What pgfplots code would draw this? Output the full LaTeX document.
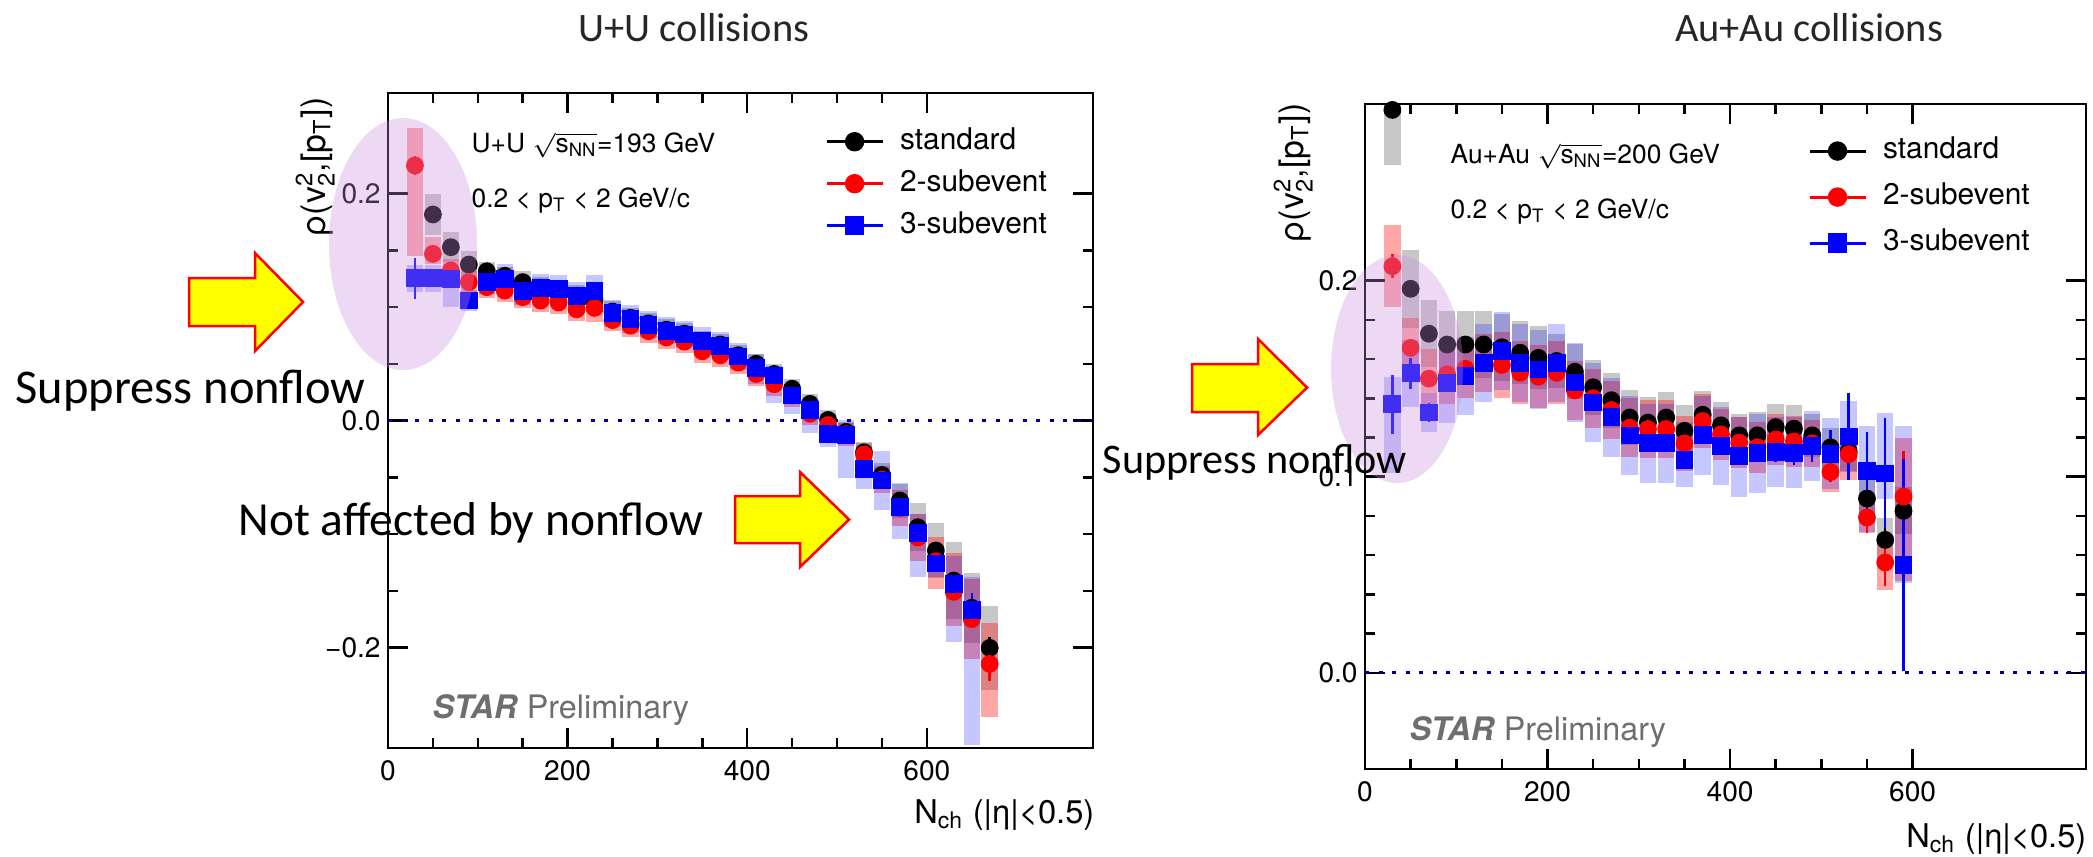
\documentclass[border=0pt]{standalone}
\usepackage{fontspec}
\usepackage{amsmath}
\usepackage{pgfplots}
\usepackage{pgfplotstable}
\pgfplotsset{compat=1.18}
\setmainfont{TeX Gyre Heros}
\newfontfamily\calibri{Carlito}

\definecolor{zeroline}{RGB}{0,0,140}
\definecolor{hazecol}{RGB}{200,140,220}
\definecolor{prelim}{RGB}{110,110,110}
\definecolor{arrowfill}{RGB}{255,255,0}
\definecolor{mred}{RGB}{255,0,0}
\definecolor{mblue}{RGB}{0,0,255}

% columns: N_ch, value, stat. error, syst. down, syst. up
\pgfplotstableread{
x y e sm sp
50 0.1815 0.004 0.018 0.018
70 0.1527 0.003 0.013 0.013
90 0.1374 0.003 0.012 0.012
110 0.1315 0.003 0.008 0.008
130 0.1275 0.003 0.008 0.008
150 0.1219 0.003 0.010 0.010
170 0.1170 0.003 0.009 0.009
190 0.1140 0.003 0.009 0.009
210 0.1100 0.003 0.009 0.009
230 0.1057 0.003 0.010 0.010
250 0.0960 0.003 0.009 0.009
270 0.0905 0.003 0.009 0.009
290 0.0855 0.003 0.009 0.009
310 0.0800 0.003 0.009 0.009
330 0.0765 0.003 0.009 0.009
350 0.0700 0.003 0.009 0.009
370 0.0670 0.003 0.009 0.009
390 0.0575 0.003 0.009 0.009
410 0.0500 0.003 0.009 0.009
430 0.0410 0.003 0.009 0.009
450 0.0280 0.003 0.009 0.009
470 0.0147 0.003 0.009 0.009
490 0.0005 0.003 0.009 0.009
510 -0.0100 0.003 0.009 0.009
530 -0.0280 0.003 0.009 0.009
550 -0.0480 0.003 0.011 0.011
570 -0.0705 0.003 0.015 0.015
590 -0.0940 0.003 0.021 0.021
610 -0.1145 0.004 0.024 0.024
630 -0.1410 0.004 0.034 0.034
650 -0.1650 0.005 0.031 0.031
670 -0.2003 0.010 0.037 0.037
}\UUstd

\pgfplotstableread{
x y e sm sp
30 0.2247 0.008 0.080 0.033
50 0.1468 0.005 0.009 0.015
70 0.1322 0.004 0.010 0.010
90 0.1219 0.004 0.010 0.010
110 0.1175 0.004 0.010 0.010
130 0.1145 0.003 0.010 0.010
150 0.1087 0.003 0.010 0.010
170 0.1057 0.003 0.010 0.010
190 0.1040 0.003 0.010 0.010
210 0.0980 0.003 0.010 0.010
230 0.0992 0.003 0.012 0.012
250 0.0885 0.003 0.010 0.010
270 0.0835 0.003 0.010 0.010
290 0.0787 0.003 0.010 0.010
310 0.0732 0.003 0.010 0.010
330 0.0695 0.003 0.010 0.010
350 0.0610 0.003 0.010 0.010
370 0.0575 0.003 0.010 0.010
390 0.0510 0.003 0.010 0.010
410 0.0410 0.003 0.011 0.010
430 0.0320 0.003 0.010 0.010
450 0.0220 0.003 0.010 0.010
470 0.0060 0.003 0.010 0.010
490 -0.0040 0.003 0.010 0.010
510 -0.0120 0.003 0.010 0.010
530 -0.0300 0.003 0.010 0.010
550 -0.0520 0.003 0.012 0.012
570 -0.0770 0.004 0.016 0.016
590 -0.1030 0.004 0.021 0.021
610 -0.1240 0.004 0.024 0.021
630 -0.1510 0.005 0.030 0.034
650 -0.1750 0.006 0.035 0.035
670 -0.2144 0.015 0.047 0.036
}\UUsubtwo

\pgfplotstableread{
x y e sm sp
30 0.1254 0.018 0.012 0.012
50 0.1254 0.008 0.012 0.012
70 0.1248 0.005 0.025 0.009
90 0.1057 0.004 0.009 0.009
110 0.1219 0.004 0.010 0.010
130 0.1248 0.004 0.013 0.013
150 0.1140 0.003 0.012 0.012
170 0.1170 0.003 0.012 0.012
190 0.1160 0.003 0.012 0.012
210 0.1100 0.003 0.012 0.012
230 0.1140 0.003 0.014 0.014
250 0.0944 0.003 0.012 0.012
270 0.0895 0.003 0.012 0.012
290 0.0845 0.003 0.012 0.012
310 0.0790 0.003 0.012 0.012
330 0.0758 0.003 0.012 0.012
350 0.0700 0.003 0.012 0.012
370 0.0660 0.003 0.012 0.012
390 0.0564 0.003 0.012 0.012
410 0.0464 0.003 0.014 0.012
430 0.0396 0.003 0.024 0.008
450 0.0220 0.003 0.016 0.010
470 0.0094 0.003 0.020 0.010
490 -0.0117 0.003 0.012 0.012
510 -0.0126 0.003 0.038 0.013
530 -0.0426 0.003 0.018 0.020
550 -0.0529 0.004 0.026 0.026
570 -0.0764 0.004 0.028 0.021
590 -0.0990 0.005 0.039 0.017
610 -0.1260 0.005 0.012 0.012
630 -0.1440 0.006 0.051 0.025
650 -0.1670 0.015 0.119 0.029
}\UUsubthree

\pgfplotstableread{
x y e sm sp
30 0.2870 0.004 0.028 0.028
50 0.1958 0.004 0.020 0.020
70 0.1729 0.003 0.017 0.017
90 0.1674 0.003 0.017 0.017
110 0.1674 0.003 0.017 0.017
130 0.1674 0.003 0.017 0.017
150 0.1660 0.003 0.017 0.017
170 0.1632 0.003 0.016 0.016
190 0.1606 0.003 0.016 0.016
210 0.1590 0.003 0.014 0.014
230 0.1535 0.003 0.014 0.014
250 0.1456 0.003 0.014 0.014
270 0.1390 0.003 0.014 0.014
290 0.1302 0.003 0.014 0.014
310 0.1276 0.003 0.013 0.013
330 0.1302 0.003 0.013 0.013
350 0.1234 0.003 0.013 0.013
370 0.1316 0.003 0.012 0.012
390 0.1262 0.003 0.012 0.012
410 0.1211 0.003 0.011 0.011
430 0.1211 0.003 0.012 0.012
450 0.1253 0.003 0.012 0.012
470 0.1245 0.003 0.012 0.012
490 0.1211 0.003 0.011 0.011
510 0.1150 0.004 0.010 0.010
530 0.1130 0.005 0.010 0.010
550 0.0889 0.006 0.010 0.010
570 0.0678 0.006 0.011 0.011
590 0.0826 0.008 0.012 0.012
}\AAstd

\pgfplotstableread{
x y e sm sp
30 0.2073 0.006 0.021 0.021
50 0.1657 0.004 0.015 0.015
70 0.1500 0.004 0.015 0.015
90 0.1522 0.003 0.015 0.015
110 0.1550 0.003 0.015 0.015
130 0.1580 0.003 0.015 0.015
150 0.1570 0.003 0.017 0.017
170 0.1530 0.003 0.016 0.016
190 0.1510 0.003 0.016 0.016
210 0.1530 0.003 0.016 0.016
230 0.1440 0.003 0.015 0.015
250 0.1400 0.003 0.015 0.015
270 0.1340 0.003 0.015 0.015
290 0.1250 0.003 0.015 0.015
310 0.1243 0.003 0.015 0.015
330 0.1243 0.003 0.015 0.015
350 0.1170 0.003 0.014 0.014
370 0.1284 0.003 0.014 0.014
390 0.1216 0.003 0.013 0.013
410 0.1174 0.003 0.013 0.013
430 0.1150 0.003 0.013 0.013
450 0.1190 0.003 0.013 0.013
470 0.1180 0.003 0.013 0.013
490 0.1170 0.004 0.012 0.012
510 0.1024 0.005 0.010 0.010
530 0.1115 0.006 0.013 0.013
550 0.0792 0.008 0.008 0.008
570 0.0563 0.012 0.014 0.014
590 0.0899 0.023 0.043 0.030
}\AAsubtwo

\pgfplotstableread{
x y e sm sp
30 0.1370 0.015 0.035 0.014
50 0.1527 0.008 0.017 0.017
70 0.1327 0.005 0.010 0.010
90 0.1476 0.004 0.020 0.020
110 0.1513 0.004 0.020 0.020
130 0.1580 0.004 0.020 0.020
150 0.1641 0.004 0.020 0.020
170 0.1580 0.004 0.020 0.020
190 0.1547 0.004 0.020 0.020
210 0.1580 0.004 0.020 0.020
230 0.1480 0.004 0.020 0.020
250 0.1378 0.004 0.020 0.020
270 0.1303 0.004 0.020 0.020
290 0.1210 0.004 0.020 0.020
310 0.1170 0.004 0.020 0.020
330 0.1170 0.004 0.020 0.020
350 0.1087 0.004 0.014 0.019
370 0.1211 0.004 0.020 0.020
390 0.1157 0.004 0.020 0.020
410 0.1106 0.004 0.021 0.020
430 0.1119 0.004 0.020 0.020
450 0.1126 0.005 0.018 0.018
470 0.1122 0.006 0.018 0.018
490 0.1157 0.008 0.018 0.018
510 0.1117 0.012 0.018 0.018
530 0.1205 0.022 0.018 0.018
550 0.1029 0.020 0.031 0.023
570 0.1017 0.028 0.013 0.031
590 0.0550 0.054 0.009 0.071
}\AAsubthree

\pgfplotsset{
  rootaxis/.style={
    scale only axis,
    axis line style={line width=0.27mm},
    every tick/.style={line width=0.25mm, black},
    tick align=inside,
    major tick length=2mm,
    minor tick length=1mm,
    tick pos=both,
    xtick={0,200,400,600},
    xticklabels={0,200,400,600},
    minor x tick num=3,
    ticklabel style={font=\fontsize{8}{9}\selectfont},
    yticklabel style={xshift=0.5mm},
    legend cell align=left,
    legend image code/.code={\draw[mark repeat=2,mark phase=2,##1] plot coordinates {(0mm,0mm) (2.8mm,0mm) (5.6mm,0mm)};},
    legend style={draw=none, fill=none, inner sep=0pt, outer sep=0pt,
      font=\fontsize{8.5}{10}\selectfont, column sep=1.6mm,
      nodes={inner sep=0pt, text height=2.1mm, text depth=0.6mm}},
  },
  sysbox/.style 2 args={forget plot, only marks, mark=none,
    error bars/.cd, y dir=both, y explicit, error mark=none,
    error bar style={line width=1.65mm, draw=#1, opacity=#2}},
  statpts/.style 2 args={forget plot, only marks, mark=#2, mark size=0.82mm,
    color=#1, mark options={draw=#1, fill=#1, solid},
    error bars/.cd, y dir=both, y explicit, error mark=none,
    error bar style={line width=0.25mm, draw=#1}},
  zerodots/.style={forget plot, color=zeroline, line width=0.3mm,
    dash pattern=on 0.4mm off 0.95mm},
}

\begin{document}
\begin{tikzpicture}
\useasboundingbox (0,0) rectangle (209.3mm,-85.6mm);

% U+U panel
\begin{axis}[rootaxis, at={(38.8mm,-74.8mm)}, anchor=south west,
  width=70.5mm, height=65.5mm,
  xmin=0, xmax=785, ymin=-0.2885, ymax=0.2885,
  ytick={-0.2,0,0.2}, yticklabels={−0.2,0.0,0.2}, minor y tick num=3,
  legend style={at={(axis cs:486.7,0.2575)}, anchor=north west, row sep=1.5mm}]
\addplot[zerodots] coordinates {(0,0) (785,0)};
\addplot[sysbox={black}{0.22}] table[x=x,y=y,y error plus=sp,y error minus=sm] {\UUstd};
\addplot[sysbox={mred}{0.35}] table[x=x,y=y,y error plus=sp,y error minus=sm] {\UUsubtwo};
\addplot[sysbox={mblue}{0.22}] table[x=x,y=y,y error plus=sp,y error minus=sm] {\UUsubthree};
\addplot[statpts={black}{*}] table[x=x,y=y,y error=e] {\UUstd};
\addplot[statpts={mred}{*}] table[x=x,y=y,y error=e] {\UUsubtwo};
\addplot[statpts={mblue}{square*}] table[x=x,y=y,y error=e] {\UUsubthree};
\addlegendimage{black, line width=0.3mm, mark=*, mark size=0.82mm, mark options={solid, fill=black}}
\addlegendentry{standard}
\addlegendimage{mred, line width=0.3mm, mark=*, mark size=0.82mm, mark options={solid, fill=mred}}
\addlegendentry{2-subevent}
\addlegendimage{mblue, line width=0.3mm, mark=square*, mark size=0.82mm, mark options={solid, fill=mblue}}
\addlegendentry{3-subevent}
\end{axis}

% Au+Au panel
\begin{axis}[rootaxis, at={(136.5mm,-76.9mm)}, anchor=south west,
  width=72.1mm, height=66.5mm,
  xmin=0, xmax=790, ymin=-0.049, ymax=0.29,
  ytick={0,0.1,0.2}, yticklabels={0.0,0.1,0.2}, minor y tick num=4,
  legend style={at={(axis cs:485.4,0.2729)}, anchor=north west, row sep=1.9mm}]
\addplot[zerodots] coordinates {(0,0) (790,0)};
\addplot[sysbox={black}{0.22}] table[x=x,y=y,y error plus=sp,y error minus=sm] {\AAstd};
\addplot[sysbox={mred}{0.35}] table[x=x,y=y,y error plus=sp,y error minus=sm] {\AAsubtwo};
\addplot[sysbox={mblue}{0.22}] table[x=x,y=y,y error plus=sp,y error minus=sm] {\AAsubthree};
\addplot[statpts={black}{*}] table[x=x,y=y,y error=e] {\AAstd};
\addplot[statpts={mred}{*}] table[x=x,y=y,y error=e] {\AAsubtwo};
\addplot[statpts={mblue}{square*}] table[x=x,y=y,y error=e] {\AAsubthree};
\addlegendimage{black, line width=0.3mm, mark=*, mark size=0.82mm, mark options={solid, fill=black}}
\addlegendentry{standard}
\addlegendimage{mred, line width=0.3mm, mark=*, mark size=0.82mm, mark options={solid, fill=mred}}
\addlegendentry{2-subevent}
\addlegendimage{mblue, line width=0.3mm, mark=square*, mark size=0.82mm, mark options={solid, fill=mblue}}
\addlegendentry{3-subevent}
\end{axis}

\begin{scope}[x=0.1mm, y=-0.1mm]
  % axis titles and in-frame labels
  \node[rotate=90, anchor=base east, inner sep=0pt, font=\fontsize{9.6}{11}\selectfont]
    at (325,97) {ρ(v\(^{\text{2}}_{\text{2}}\),[p\(_{\text{T}}\)])};
  \node[rotate=90, anchor=base east, inner sep=0pt, font=\fontsize{9.6}{11}\selectfont]
    at (1303,103) {ρ(v\(^{\text{2}}_{\text{2}}\),[p\(_{\text{T}}\)])};
  \node[anchor=base east, inner sep=0pt, font=\fontsize{9.3}{11}\selectfont]
    at (1095,823) {N\(_{\text{ch}}\) (|η|<0.5)};
  \node[anchor=base east, inner sep=0pt, font=\fontsize{9.3}{11}\selectfont]
    at (2087,847) {N\(_{\text{ch}}\) (|η|<0.5)};
  \node[anchor=base west, inner sep=0pt, font=\fontsize{7.5}{9}\selectfont]
    at (471,152) {U+U \(\sqrt{\text{s}_{\text{NN}}}\)=193 GeV};
  \node[anchor=base west, inner sep=0pt, font=\fontsize{7.5}{9}\selectfont]
    at (471,207) {0.2 < p\(_{\text{T}}\) < 2 GeV/c};
  \node[anchor=base west, inner sep=0pt, font=\fontsize{7.5}{9}\selectfont]
    at (1450,163) {Au+Au \(\sqrt{\text{s}_{\text{NN}}}\)=200 GeV};
  \node[anchor=base west, inner sep=0pt, font=\fontsize{7.5}{9}\selectfont]
    at (1450,218) {0.2 < p\(_{\text{T}}\) < 2 GeV/c};
  \node[anchor=base west, inner sep=0pt, text=prelim, font=\fontsize{9.2}{11}\selectfont]
    at (432,718) {\textbf{\textit{STAR}} Preliminary};
  \node[anchor=base west, inner sep=0pt, text=prelim, font=\fontsize{9.2}{11}\selectfont]
    at (1409,740) {\textbf{\textit{STAR}} Preliminary};

  % highlighted low-multiplicity region
  \fill[hazecol, opacity=0.33] (403,244) ellipse [x radius=74, y radius=126];
  \fill[hazecol, opacity=0.33] (1397,369) ellipse [x radius=66, y radius=114];

  % block arrows
  \filldraw[fill=arrowfill, draw=mred, line width=0.25mm, line join=miter]
    (189,278) -- (255,278) -- (255,253) -- (303,302) -- (255,351) -- (255,326) -- (189,326) -- cycle;
  \filldraw[fill=arrowfill, draw=mred, line width=0.25mm, line join=miter]
    (735,496) -- (800,496) -- (800,472) -- (849,519.5) -- (800,567) -- (800,543) -- (735,543) -- cycle;
  \filldraw[fill=arrowfill, draw=mred, line width=0.25mm, line join=miter]
    (1192,364) -- (1258,364) -- (1258,339) -- (1307,387.5) -- (1258,435) -- (1258,412) -- (1192,412) -- cycle;

  % slide text
  \node[anchor=base, inner sep=0pt, text=black!85, font=\calibri\fontsize{11.5}{13}\selectfont]
    at (694,41) {U+U collisions};
  \node[anchor=base, inner sep=0pt, text=black!85, font=\calibri\fontsize{11.5}{13}\selectfont]
    at (1809,41) {Au+Au collisions};
  \node[anchor=base west, inner sep=0pt, font=\calibri\fontsize{13.8}{16}\selectfont]
    at (15,403) {Suppress nonflow};
  \node[anchor=base west, inner sep=0pt, font=\calibri\fontsize{13.5}{16}\selectfont]
    at (238,535) {Not affected by nonflow};
  \node[anchor=base west, inner sep=0pt, font=\calibri\fontsize{12}{14}\selectfont]
    at (1102,473) {Suppress nonflow};
\end{scope}
\end{tikzpicture}
\end{document}
